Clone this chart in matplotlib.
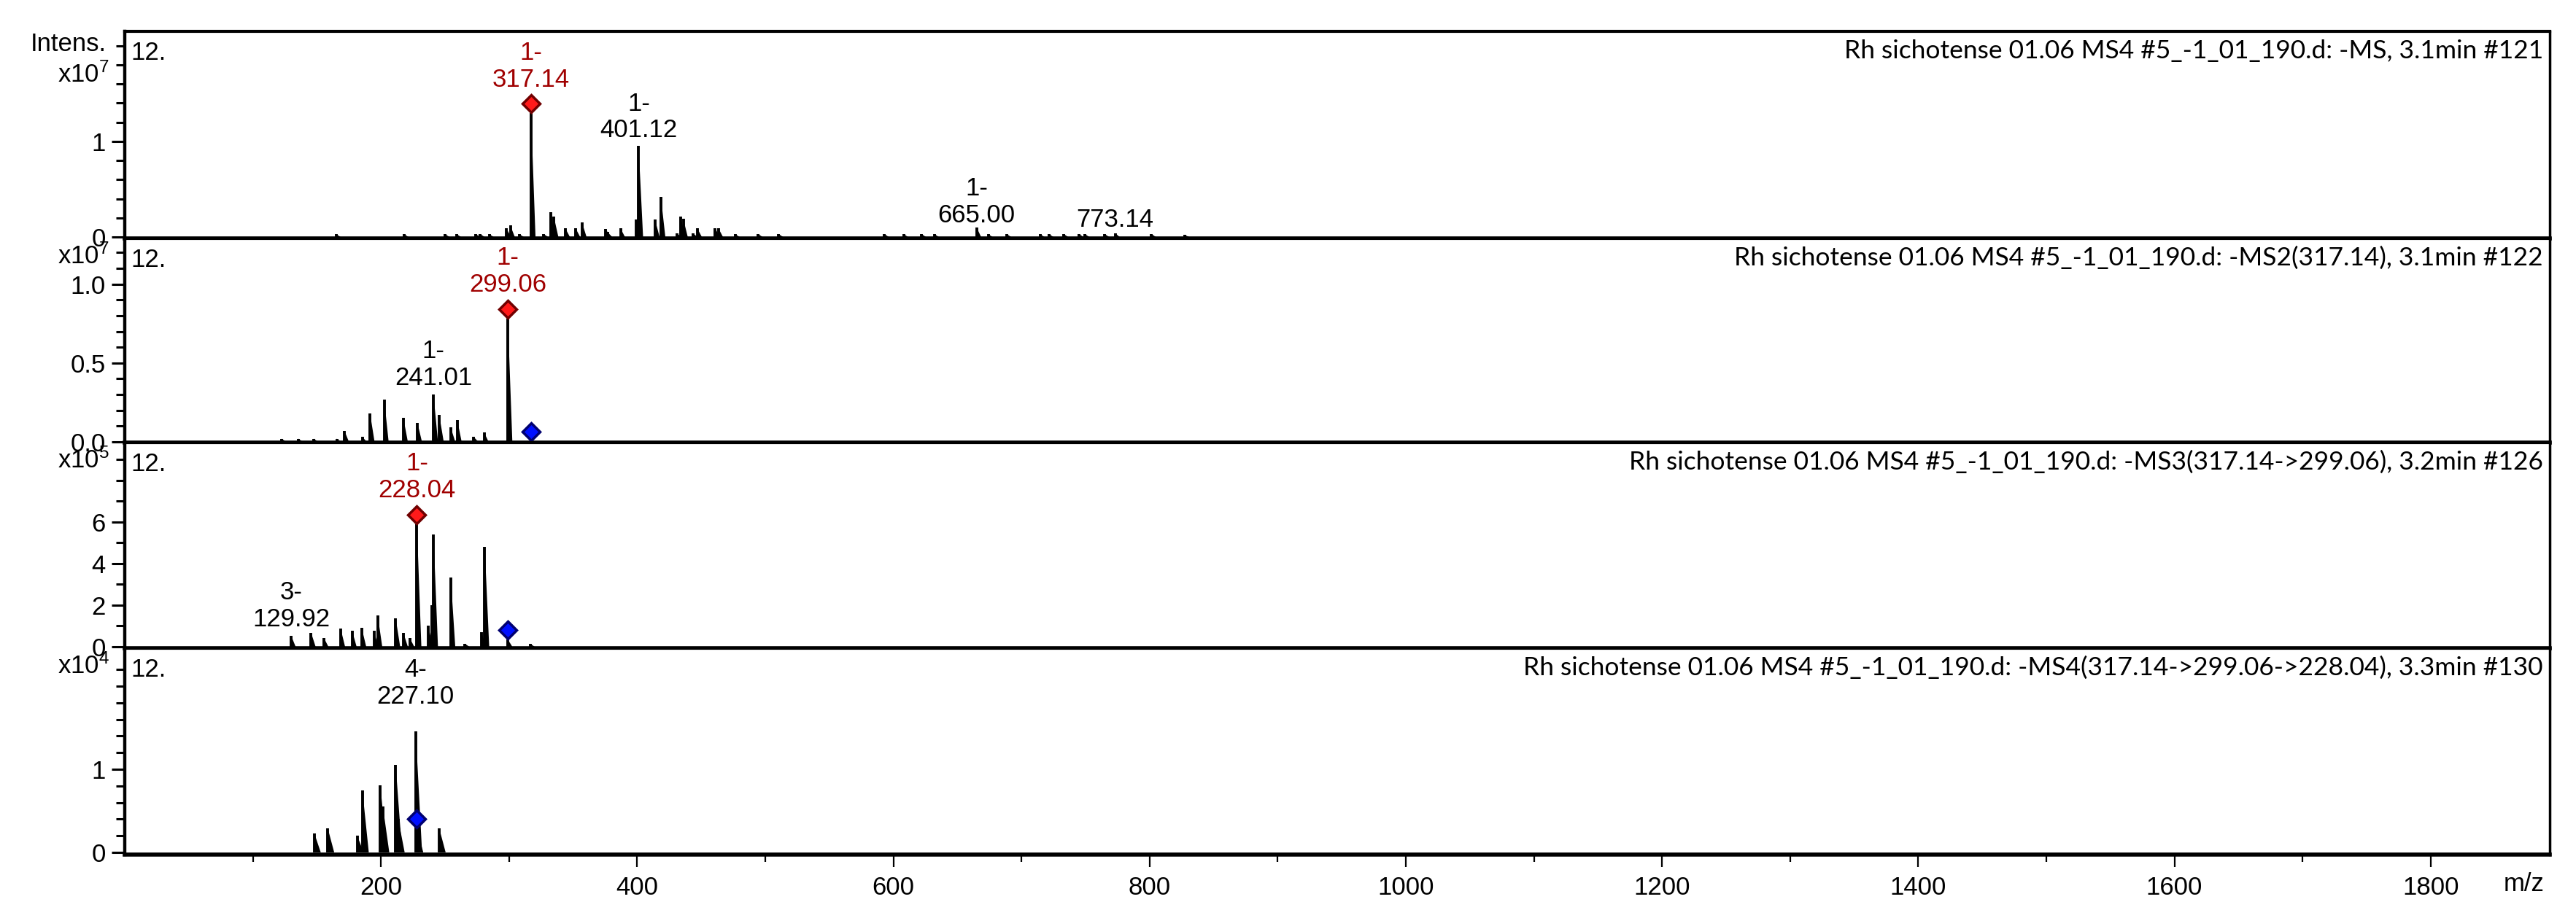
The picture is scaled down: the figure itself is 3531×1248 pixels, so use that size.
import matplotlib
matplotlib.use('Agg')
import numpy as np
import matplotlib.pyplot as plt
from matplotlib import font_manager
from matplotlib.font_manager import FontProperties
from matplotlib.ticker import FixedLocator, FormatStrFormatter
from matplotlib.transforms import offset_copy


def pick(names):
    for n in names:
        try:
            font_manager.findfont(FontProperties(family=n), fallback_to_default=False)
            return n
        except Exception:
            pass
    return 'DejaVu Sans'


MAIN_FONT = pick(['Liberation Sans', 'Roboto'])
TITLE_FONT = pick(['Lato', 'Liberation Sans'])
plt.rcParams['font.family'] = [MAIN_FONT, 'DejaVu Sans']
plt.rcParams['mathtext.fontset'] = 'custom'
plt.rcParams['mathtext.rm'] = MAIN_FONT
plt.rcParams['mathtext.it'] = MAIN_FONT

# ---- data -------------------------------------------------------------
titles = [
    'Rh sichotense 01.06 MS4 #5_-1_01_190.d: -MS, 3.1min #121',
    'Rh sichotense 01.06 MS4 #5_-1_01_190.d: -MS2(317.14), 3.1min #122',
    'Rh sichotense 01.06 MS4 #5_-1_01_190.d: -MS3(317.14->299.06), 3.2min #126',
    'Rh sichotense 01.06 MS4 #5_-1_01_190.d: -MS4(317.14->299.06->228.04), 3.3min #130',
]
exponents = [7, 7, 5, 4]

ms1_mz = [165, 218, 250, 259, 274, 277.5, 284.5, 298, 301, 308, 317.14, 327, 332.5, 335,
          344, 352, 357, 375.5, 377, 387, 399.5, 401.12, 414, 418.5, 431, 434, 436, 443.5,
          447, 461, 463.5, 476.5, 494.5, 510.5, 593, 608, 622, 632, 665.00, 674, 688.5,
          714.5, 721.5, 733, 745, 749.5, 765, 773.14, 801.5, 827.5]
ms1_int = [0.03, 0.03, 0.03, 0.03, 0.03, 0.03, 0.03, 0.09, 0.12, 0.03, 1.30, 0.03, 0.26, 0.21,
           0.09, 0.09, 0.15, 0.085, 0.05, 0.09, 0.18, 0.95, 0.18, 0.42, 0.04, 0.21, 0.19, 0.04,
           0.09, 0.09, 0.09, 0.03, 0.03, 0.03, 0.03, 0.03, 0.03, 0.03, 0.10, 0.03, 0.03,
           0.03, 0.03, 0.03, 0.03, 0.03, 0.03, 0.04, 0.03, 0.02]

ms2_mz = [122.5, 135.5, 147.5, 165.5, 171.5, 185.5, 191.5, 202.5, 217.5, 228.5, 241.01,
          245.5, 254.5, 259.5, 272.5, 280.5, 299.06, 317.14]
ms2_int = [0.02, 0.02, 0.02, 0.02, 0.07, 0.03, 0.18, 0.27, 0.15, 0.12, 0.30,
           0.17, 0.09, 0.14, 0.03, 0.06, 0.78, 0.005]

ms3_mz = [129.92, 145.5, 155.5, 168.5, 177.5, 185, 194.5, 197.5, 211.5, 217.5, 222.5,
          228.04, 237, 239.5, 241, 254.5, 265.5, 278.5, 281, 299.06, 316.5]
ms3_int = [0.53, 0.67, 0.42, 0.88, 0.77, 0.9, 0.77, 1.5, 1.37, 0.67, 0.42,
           5.9, 1.0, 2.0, 5.4, 3.33, 0.15, 0.7, 4.8, 0.35, 0.15]

ms4_mz = [148, 158.5, 181.5, 185.5, 199.5, 201.5, 211.5, 213.5, 227.10, 228.04, 245.5]
ms4_int = [0.23, 0.29, 0.20, 0.75, 0.81, 0.55, 1.05, 0.40, 1.46, 0.29, 0.29]

spectra = [(ms1_mz, ms1_int), (ms2_mz, ms2_int), (ms3_mz, ms3_int), (ms4_mz, ms4_int)]

# precursor (red) and isolated ion (blue) per scan
red_mz = [317.14, 299.06, 228.04, None]
blue_mz = [None, 317.14, 299.06, 228.04]

# peak labels: (m/z, charge line, colour key)
labels = [
    [(317.14, '1-', 'prec'), (401.12, '1-', 'ion'), (665.00, '1-', 'ion'), (773.14, '', 'ion')],
    [(299.06, '1-', 'prec'), (241.01, '1-', 'ion')],
    [(228.04, '1-', 'prec'), (129.92, '3-', 'ion')],
    [(227.10, '4-', 'ion')],
]

# ---- layout -------------------------------------------------------------
W, H = 3531, 1248
fig = plt.figure(figsize=(W / 100, H / 100), dpi=100)

LEFT, RIGHT = 171, 3495
panel_px = [(43, 327), (327, 607), (607, 889), (889, 1172)]
ylims = [(-0.015, 2.15), (-0.005, 1.29), (-0.07, 9.82), (-0.026, 2.456)]
major_ticks = [[0, 1], [0, 0.5, 1.0], [0, 2, 4, 6], [0, 1]]
minor_ticks = [np.arange(0, 2.01, 0.2), np.arange(0, 1.21, 0.1),
               np.arange(0, 9.01, 1), np.arange(0, 2.21, 0.2)]
fmts = ['%g', '%.1f', '%g', '%g']
label_gap = [[29, 5, 0, 2], [30, 6], [30, 6], [31]]
peak_w = [3.5, 3.5, 3.5, 5]

PREC_COL = '#a00000'
FS = 25

axes = []
for i, (top, bot) in enumerate(panel_px):
    ax = fig.add_axes([LEFT / W, 1 - bot / H, (RIGHT - LEFT) / W, (bot - top) / H])
    axes.append(ax)
    mz, inten = spectra[i]
    for m, h in zip(mz, inten):
        ax.fill([m, m, m + peak_w[i]], [0, h, 0], color='black', lw=0)
    ax.vlines(mz, 0, inten, color='black', lw=2.8)

    ax.set_xlim(0, 1893)
    ax.set_ylim(*ylims[i])
    ax.yaxis.set_major_locator(FixedLocator(major_ticks[i]))
    ax.yaxis.set_minor_locator(FixedLocator(minor_ticks[i]))
    ax.yaxis.set_major_formatter(FormatStrFormatter(fmts[i]))
    ax.tick_params(axis='y', which='major', direction='out', length=13, width=2.2,
                   labelsize=FS, pad=6)
    ax.tick_params(axis='y', which='minor', direction='out', length=8.5, width=2.2)
    ax.spines['left'].set_linewidth(3.2)
    ax.spines['top'].set_linewidth(3)
    ax.spines['bottom'].set_linewidth(4)
    ax.spines['right'].set_linewidth(2.5)

    # diamonds just above peak tops
    dtrans = offset_copy(ax.transData, fig=fig, x=0, y=13, units='dots')
    lookup = dict(zip(mz, inten))
    if red_mz[i] is not None:
        ax.plot([red_mz[i]], [lookup[red_mz[i]]], 'D', ms=12, mfc='#ff1a1a', mec='#700000',
                mew=2.5, transform=dtrans, zorder=5, clip_on=False)
    if blue_mz[i] is not None:
        ax.plot([blue_mz[i]], [lookup[blue_mz[i]]], 'D', ms=12, mfc='#0010ff', mec='#000070',
                mew=2.5, transform=dtrans, zorder=5, clip_on=False)

    for (m, z, kind), gap in zip(labels[i], label_gap[i]):
        txt = '%.2f' % m if not z else '%s\n%.2f' % (z, m)
        col = PREC_COL if kind == 'prec' else 'black'
        bbox = dict(fc='white', ec='none', pad=1) if kind == 'prec' else None
        ax.annotate(txt, xy=(m, lookup[m]), xytext=(0, gap * 0.72), textcoords='offset points',
                    ha='center', va='bottom', multialignment='center', fontsize=FS,
                    color=col, linespacing=1.15, bbox=bbox, zorder=6, annotation_clip=False)

    # header texts
    ax.text(8 / (RIGHT - LEFT), 1 - 29 / (bot - top), '12.', transform=ax.transAxes,
            ha='left', va='center', fontsize=FS)
    ax.text(1 - 9 / (RIGHT - LEFT), 1 - 27 / (bot - top), titles[i], transform=ax.transAxes,
            ha='right', va='center', fontsize=25.5, family=[TITLE_FONT, 'DejaVu Sans'])
    xlab_y = (top + 60) if i == 0 else (top + 25)
    fig.text(150 / W, 1 - xlab_y / H, r'x10$^{%d}$' % exponents[i], ha='right', va='center',
             fontsize=FS)

    if i < 3:
        ax.tick_params(axis='x', which='both', bottom=False, labelbottom=False)

fig.text(146 / W, 1 - 60 / H, 'Intens.', ha='right', va='center', fontsize=FS)

axb = axes[-1]
axb.xaxis.set_major_locator(FixedLocator(np.arange(200, 1801, 200)))
axb.xaxis.set_minor_locator(FixedLocator(np.arange(100, 1801, 200)))
axb.tick_params(axis='x', which='major', direction='out', length=12, width=1.6,
                labelsize=FS, pad=9)
axb.tick_params(axis='x', which='minor', direction='out', length=7, width=1.6)
fig.text(3460 / W, 1 - 1212 / H, 'm/z', ha='center', va='center', fontsize=FS)

fig.savefig('out.png', dpi=100)
